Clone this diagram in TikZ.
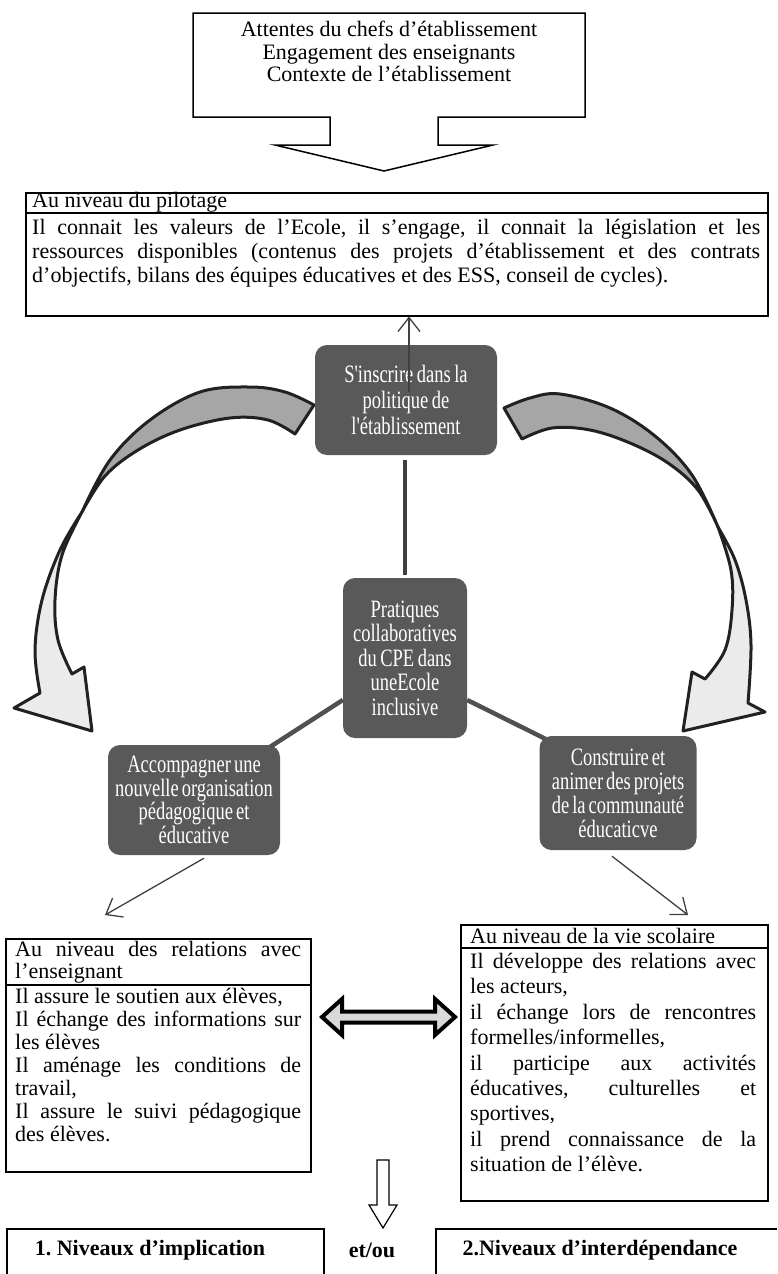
\documentclass[tikz,border=0pt]{standalone}
\usepackage{fontspec}
\setmainfont{Liberation Serif}
\newfontfamily\condf[FakeStretch=0.74]{Liberation Serif}
\usetikzlibrary{arrows.meta,calc}
\setlength{\parindent}{0pt}
\definecolor{boxgray}{HTML}{595959}
\definecolor{lngray}{HTML}{404040}
\definecolor{upgray}{HTML}{A6A6A6}
\definecolor{lowgray}{HTML}{EBEBEB}
\definecolor{arrgray}{HTML}{505050}
\begin{document}
\frenchspacing
\begin{tikzpicture}[x=1pt,y=-1pt,
  every node/.style={inner sep=0pt},
  frame/.style={draw=black, line width=1.5pt},
  body/.style={font=\fontsize{22}{23}\selectfont, align=justify, anchor=north west},
  darkbox/.style={rounded corners=12pt, fill=boxgray, text=white, align=center,
     font={\condf\fontsize{25}{24.5}\selectfont\spaceskip=0.14em}},
  thinarrow/.style={draw=lngray, line width=1.3pt, -{Straight Barb[length=14pt,width=22pt]}},
  conn/.style={draw=arrgray, line width=4.5pt},
  curvearr/.style={draw=black!87, line width=3pt, line join=round},
  boldtxt/.style={font=\bfseries\fontsize{22}{23}\selectfont}
]
\useasboundingbox (0,0) rectangle (777,1274);

% top callout
\draw[frame, line join=miter] (193,13) -- (585,13) -- (585,117) -- (438,117) -- (438,145) -- (493,145)
   -- (384,171) -- (275,145) -- (330,145) -- (330,117) -- (193,117) -- cycle;
\node[anchor=north, align=center, font=\fontsize{22}{22.5}\selectfont] (topt) at (389,21)
  {Attentes du chefs d’établissement\\Engagement des enseignants\\Contexte de l’établissement};

% pilotage box
\node[frame, minimum width=742pt, minimum height=123pt, anchor=north west] (pil) at (25,192) {};
\draw[frame] ($(pil.north west)+(0,21)$) -- ($(pil.north east)+(0,21)$);
\node[anchor=west, font=\fontsize{22}{23}\selectfont] (pilh) at (32,202) {Au niveau du pilotage};
\node[body, text width=728pt, font=\fontsize{22}{24}\selectfont] (pilb) at (32,219)
  {Il connait les valeurs de l’Ecole, il s’engage, il connait la législation et les\linebreak
   ressources disponibles (contenus des projets d’établissement et des contrats\linebreak
   d’objectifs, bilans des équipes éducatives et des ESS, conseil de cycles).};

% curved arrows (left)
\filldraw[curvearr, fill=upgray]
  plot[smooth, tension=0.6] coordinates {(314,405) (285,392) (250,387) (200,392) (150,420) (110,460) (82,512)}
  -- plot[smooth, tension=0.6] coordinates {(82,512) (105,476) (138,450) (180,430) (230,418) (268,420) (295,434)}
  -- cycle;
\filldraw[curvearr, fill=lowgray]
  plot[smooth, tension=0.6] coordinates {(82,512) (60,550) (42,600) (35,650) (40,693)}
  -- (14,708) -- (92,731) -- (84,667) -- (72,674)
  -- plot[smooth, tension=0.6] coordinates {(72,674) (58,640) (55,600) (62,555) (82,512)}
  -- cycle;
% curved arrows (right)
\filldraw[curvearr, fill=upgray]
  plot[smooth, tension=0.6] coordinates {(504,408) (530,398) (560,394) (610,408) (655,436) (692,475) (718,527)}
  -- plot[smooth, tension=0.6] coordinates {(718,527) (698,490) (668,463) (630,443) (590,430) (552,428) (522,439)}
  -- cycle;
\filldraw[curvearr, fill=lowgray]
  plot[smooth, tension=0.6] coordinates {(718,527) (735,560) (746,600) (751,645) (748,703)}
  -- (765,712) -- (683,731) -- (692,672) -- (705,679)
  -- plot[smooth, tension=0.6] coordinates {(705,679) (725,650) (732,610) (731,570) (718,527)}
  -- cycle;

% dark boxes
\node[darkbox, minimum width=182pt, minimum height=110pt,
      font={\condf\fontsize{25}{26}\selectfont\spaceskip=0.14em}] (sins) at (406,400)
  {S'inscrire dans la\\politique de\\l'établissement};
\node[darkbox, minimum width=124pt, minimum height=160pt] (prat) at (405,658)
  {Pratiques\\collaboratives\\du CPE dans\\uneEcole\\inclusive};
\node[darkbox, minimum width=172pt, minimum height=110pt,
      font={\condf\fontsize{25}{23.5}\selectfont\spaceskip=0.12em}] (acc) at (194,800)
  {Accompagner une\\nouvelle organisation\\pédagogique et\\éducative};
\node[darkbox, minimum width=157pt, minimum height=114pt,
      font={\condf\fontsize{25}{24}\selectfont\spaceskip=0.12em}] (cons) at (618,793)
  {Construire et\\animer des projets\\de la communauté\\éducaticve};

% connectors
\coordinate (s0) at (409,392);
\draw[thinarrow] (s0) -- (s0 |- pil.south);
\draw[draw=lngray, line width=4.5pt] ($(sins.south)+(-1,5)$) -- ($(prat.north)+(0,-3)$);
\draw[conn] ($(prat.west)+(0,42)$) -- ($(acc.north east)+(-10,2)$);
\draw[conn] ($(prat.east)+(0,42)$) -- ($(cons.north west)+(6,3)$);

% lower boxes
\node[frame, minimum width=305pt, minimum height=233pt, anchor=north west] (lbox) at (5,938) {};
\draw[frame] ($(lbox.north west)+(0,47)$) -- ($(lbox.north east)+(0,47)$);
\node[body, text width=286pt, font=\fontsize{22}{22}\selectfont] (lhead) at (15,941)
  {Au niveau des relations avec\linebreak l’enseignant};
\node[body, text width=286pt] (lbody) at (15,988)
  {Il assure le soutien aux élèves,\par
   Il échange des informations sur\linebreak les élèves\par
   Il aménage les conditions de\linebreak travail,\par
   Il assure le suivi pédagogique\linebreak des élèves.};

\node[frame, minimum width=307pt, minimum height=276pt, anchor=north west] (rbox) at (460,924) {};
\draw[frame] ($(rbox.north west)+(0,24)$) -- ($(rbox.north east)+(0,24)$);
\node[anchor=west, font=\fontsize{22}{23}\selectfont] (rhead) at (470,936) {Au niveau de la vie scolaire};
\node[body, text width=286pt, font=\fontsize{22}{25.4}\selectfont] (rbody) at (470,953)
  {Il développe des relations avec\linebreak les acteurs,\par
   il échange lors de rencontres\linebreak formelles/informelles,\par
   il participe aux activités\linebreak éducatives, culturelles et\linebreak sportives,\par
   il prend connaissance de la\linebreak situation de l’élève.};

\coordinate (lt) at (105,915);
\coordinate (rt) at (688,915);
\draw[thinarrow] ($(acc.south)+(10,3)$) -- (lt);
\draw[thinarrow] ($(cons.south)+(-6,6)$) -- (rt);

% double arrow between lower boxes
\filldraw[draw=black, line width=4pt, fill=gray!30, line join=miter]
  (322,1017) -- (342,999) -- (342,1011.5) -- (435,1011.5) -- (435,999) -- (455,1017)
  -- (435,1035) -- (435,1022.5) -- (342,1022.5) -- (342,1035) -- cycle;

% hollow down arrow
\draw[line width=1.2pt, line join=miter] (377,1160) -- (389,1160) -- (389,1205) -- (397,1205)
  -- (383,1228) -- (369,1205) -- (377,1205) -- cycle;

% bottom row
\draw[frame] (7,1274) -- (7,1229) -- (324,1229) -- (324,1274);
\draw[frame] (436,1274) -- (436,1229) -- (777,1229);
\node[boldtxt] (impl) at (150,1250) {1. Niveaux d’implication};
\node[boldtxt] (etou) at (372,1250) {et/ou};
\node[boldtxt] (interd) at (600,1250) {2.Niveaux d’interdépendance};
\end{tikzpicture}
\end{document}
